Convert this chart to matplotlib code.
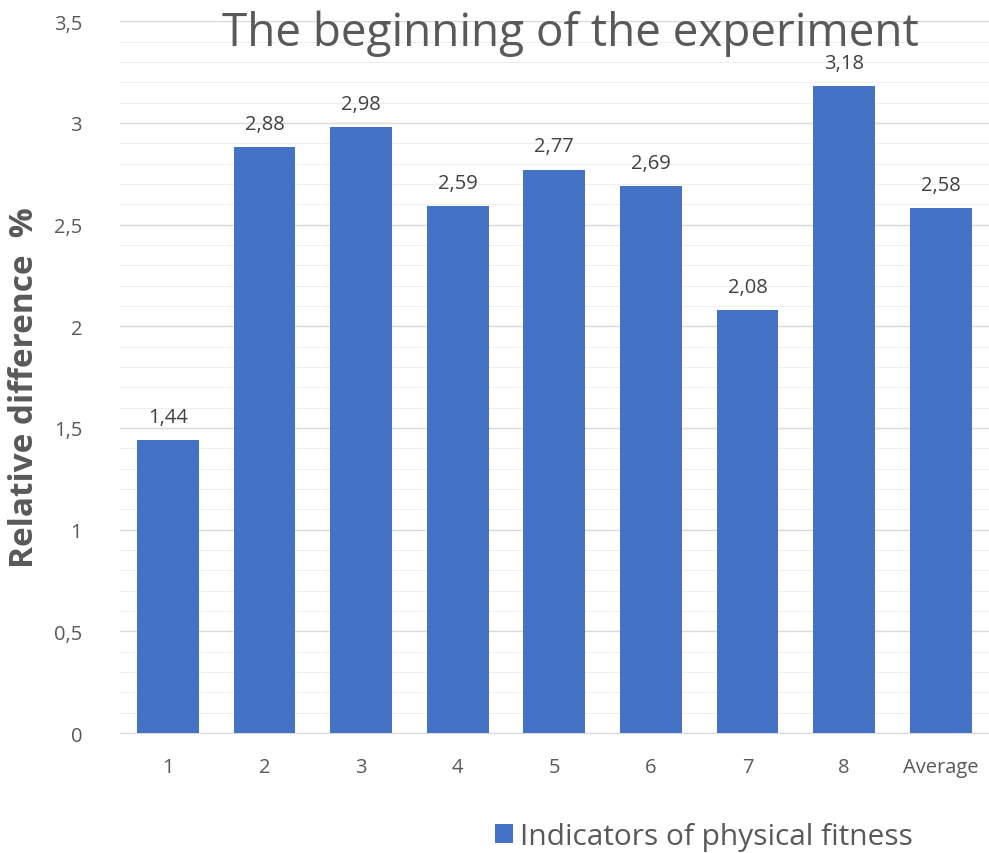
import matplotlib.pyplot as plt
from matplotlib.ticker import MultipleLocator, FuncFormatter

categories = ["1", "2", "3", "4", "5", "6", "7", "8", "Average"]
values = [1.44, 2.88, 2.98, 2.59, 2.77, 2.69, 2.08, 3.18, 2.58]

bar_color = "#4472C4"
text_gray = "#595959"

plt.rcParams["font.family"] = ["Open Sans", "DejaVu Sans"]

fig = plt.figure(figsize=(9.89, 8.54), dpi=100)
ax = fig.add_axes([0.121, 0.1405, 0.879, 0.8335])

x = range(len(categories))
bars = ax.bar(x, values, width=0.64, color=bar_color, zorder=3)

for b, v in zip(bars, values):
    ax.text(b.get_x() + b.get_width() / 2, v + 0.09, f"{v:.2f}".replace(".", ","),
            ha="center", va="baseline", fontsize=14.5, color="#404040")

ax.set_xlim(-0.5, len(categories) - 0.5)
ax.set_ylim(0, 3.5)
ax.set_xticks(list(x))
ax.set_xticklabels(categories, fontsize=14.5, color=text_gray)
ax.yaxis.set_major_locator(MultipleLocator(0.5))
ax.yaxis.set_minor_locator(MultipleLocator(0.1))
ax.yaxis.set_major_formatter(FuncFormatter(lambda v, p: f"{v:g}".replace(".", ",")))
ax.tick_params(axis="y", labelsize=14.5, labelcolor=text_gray, length=0, pad=27)
ax.tick_params(axis="y", which="minor", length=0)
ax.tick_params(axis="x", length=0, pad=17)

ax.grid(axis="y", which="major", color="#d9d9d9", linewidth=1, zorder=0)
ax.grid(axis="y", which="minor", color="#eeeeee", linewidth=0.8, zorder=0)
for s in ["top", "right", "left"]:
    ax.spines[s].set_visible(False)
ax.spines["bottom"].set_color("#d9d9d9")

ax.set_ylabel("Relative difference  %", fontsize=24, fontweight="bold", color=text_gray)
ax.yaxis.set_label_coords(-0.09, 0.486)

fig.text(0.577, 1 - 46 / 854, "The beginning of the experiment", ha="center",
         va="baseline", fontsize=33, color=text_gray)

ax.legend([bars], ["Indicators of physical fitness"], loc="center",
          bbox_to_anchor=(0.672, -0.145), frameon=False, fontsize=21.5,
          labelcolor=text_gray, handlelength=0.6, handleheight=0.6, handletextpad=0.25)

fig.savefig("out.png", dpi=100)
